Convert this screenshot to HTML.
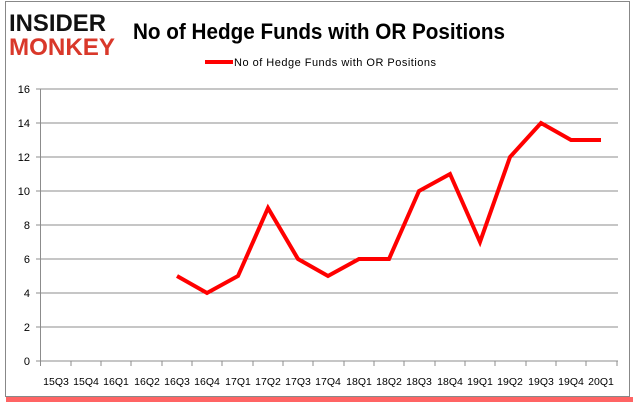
<!DOCTYPE html>
<html><head><meta charset="utf-8"><style>
body{margin:0;background:#fff;width:635px;height:405px;overflow:hidden;font-family:"Liberation Sans",sans-serif}
</style></head><body>
<svg width="635" height="405" xmlns="http://www.w3.org/2000/svg" font-family="Liberation Sans, sans-serif">
<rect x="6" y="397" width="627" height="5" fill="#f22" opacity="0.7"/>
<rect x="5.5" y="1.5" width="624" height="395" fill="#fff" stroke="#888" stroke-width="1"/>
<text x="9" y="31" font-size="24" font-weight="bold" fill="#111" textLength="97" lengthAdjust="spacingAndGlyphs">INSIDER</text>
<text x="9" y="55" font-size="24" font-weight="bold" fill="#d9382a" textLength="106" lengthAdjust="spacingAndGlyphs">MONKEY</text>
<text x="133" y="39" font-size="22" font-weight="bold" fill="#000" textLength="372" lengthAdjust="spacingAndGlyphs">No of Hedge Funds with OR Positions</text>
<line x1="205" y1="62" x2="233" y2="62" stroke="#f00" stroke-width="4"/>
<text x="234" y="66" font-size="11" fill="#000" textLength="202" lengthAdjust="spacing">No of Hedge Funds with OR Positions</text>
<g stroke="#8c8c8c" stroke-width="1">
<line x1="40.5" y1="89" x2="618" y2="89"/><line x1="40.5" y1="123" x2="618" y2="123"/>
<line x1="40.5" y1="157" x2="618" y2="157"/><line x1="40.5" y1="191" x2="618" y2="191"/>
<line x1="40.5" y1="225" x2="618" y2="225"/><line x1="40.5" y1="259" x2="618" y2="259"/>
<line x1="40.5" y1="293" x2="618" y2="293"/><line x1="40.5" y1="327" x2="618" y2="327"/>
<line x1="40.5" y1="361" x2="618" y2="361"/>
<line x1="40.5" y1="89" x2="40.5" y2="361"/>
<line x1="36" y1="89" x2="40.5" y2="89"/><line x1="36" y1="123" x2="40.5" y2="123"/><line x1="36" y1="157" x2="40.5" y2="157"/><line x1="36" y1="191" x2="40.5" y2="191"/><line x1="36" y1="225" x2="40.5" y2="225"/><line x1="36" y1="259" x2="40.5" y2="259"/><line x1="36" y1="293" x2="40.5" y2="293"/><line x1="36" y1="327" x2="40.5" y2="327"/><line x1="36" y1="361" x2="40.5" y2="361"/>
</g>
<g font-size="11" fill="#000" text-anchor="end">
<text x="30" y="93">16</text><text x="30" y="127">14</text><text x="30" y="161">12</text><text x="30" y="195">10</text><text x="30" y="229">8</text><text x="30" y="263">6</text><text x="30" y="297">4</text><text x="30" y="331">2</text><text x="30" y="365">0</text>
</g>
<g font-size="10.5" fill="#000" text-anchor="middle">
<text x="56" y="385">15Q3</text><text x="86" y="385">15Q4</text><text x="116" y="385">16Q1</text><text x="147" y="385">16Q2</text><text x="177" y="385">16Q3</text><text x="207" y="385">16Q4</text><text x="238" y="385">17Q1</text><text x="268" y="385">17Q2</text><text x="298" y="385">17Q3</text><text x="328" y="385">17Q4</text><text x="359" y="385">18Q1</text><text x="389" y="385">18Q2</text><text x="419" y="385">18Q3</text><text x="450" y="385">18Q4</text><text x="480" y="385">19Q1</text><text x="510" y="385">19Q2</text><text x="541" y="385">19Q3</text><text x="571" y="385">19Q4</text><text x="601" y="385">20Q1</text>
</g>
<g stroke="#8c8c8c" stroke-width="1">
<line x1="71" y1="361" x2="71" y2="366"/><line x1="101" y1="361" x2="101" y2="366"/><line x1="131" y1="361" x2="131" y2="366"/><line x1="162" y1="361" x2="162" y2="366"/><line x1="192" y1="361" x2="192" y2="366"/><line x1="222" y1="361" x2="222" y2="366"/><line x1="253" y1="361" x2="253" y2="366"/><line x1="283" y1="361" x2="283" y2="366"/><line x1="313" y1="361" x2="313" y2="366"/><line x1="344" y1="361" x2="344" y2="366"/><line x1="374" y1="361" x2="374" y2="366"/><line x1="404" y1="361" x2="404" y2="366"/><line x1="435" y1="361" x2="435" y2="366"/><line x1="465" y1="361" x2="465" y2="366"/><line x1="495" y1="361" x2="495" y2="366"/><line x1="526" y1="361" x2="526" y2="366"/><line x1="556" y1="361" x2="556" y2="366"/><line x1="586" y1="361" x2="586" y2="366"/><line x1="617" y1="361" x2="617" y2="366"/><line x1="40.5" y1="361" x2="40.5" y2="366"/>
</g>
<polyline fill="none" stroke="#f00" stroke-width="4" stroke-linejoin="miter" points="177,276 207,293 238,276 268,208 298,259 328,276 359,259 389,259 419,191 450,174 480,242 510,157 541,123 571,140 601,140"/>
</svg>
</body></html>
